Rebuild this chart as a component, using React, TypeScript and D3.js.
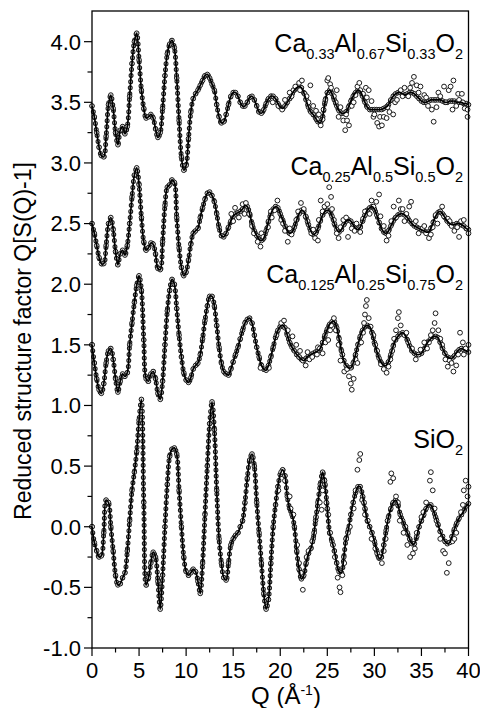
import React from 'react';
import * as d3 from 'd3';

// Q grid step of the fitted curves (Å^-1)
const Q_STEP = 0.25;

// Fitted curves, one value per Q_STEP from Q = 0 to 40
const SIO2 = [
  0.00, -0.13, -0.20, -0.25,
  -0.24, -0.05, 0.22, 0.20,
  0.00, -0.20, -0.40, -0.48,
  -0.47, -0.42, -0.38, -0.20,
  0.05, 0.30, 0.45, 0.62,
  0.88, 1.05, 0.20, -0.48,
  -0.42, -0.30, -0.21, -0.25,
  -0.45, -0.68, -0.40, 0.00,
  0.35, 0.58, 0.64, 0.65,
  0.60, 0.30, 0.00, -0.25,
  -0.37, -0.40, -0.38, -0.35,
  -0.37, -0.45, -0.55, -0.30,
  0.10, 0.50, 0.85, 1.03,
  0.80, 0.30, -0.10, -0.30,
  -0.42, -0.44, -0.30, -0.15,
  -0.10, -0.07, -0.05, 0.00,
  0.05, 0.20, 0.40, 0.55,
  0.60, 0.50, 0.20, -0.05,
  -0.30, -0.55, -0.68, -0.60,
  -0.30, 0.00, 0.18, 0.33,
  0.43, 0.47, 0.42, 0.25,
  0.15, 0.10, 0.00, -0.20,
  -0.35, -0.43, -0.40, -0.30,
  -0.22, -0.18, -0.10, 0.05,
  0.20, 0.35, 0.45, 0.35,
  0.15, -0.05, -0.12, -0.20,
  -0.30, -0.37, -0.38, -0.25,
  -0.10, -0.02, 0.10, 0.20,
  0.28, 0.33, 0.33, 0.25,
  0.15, 0.05, 0.00, -0.05,
  -0.12, -0.20, -0.26, -0.25,
  -0.15, -0.03, 0.08, 0.15,
  0.20, 0.22, 0.18, 0.10,
  0.05, 0.00, -0.05, -0.10,
  -0.14, -0.14, -0.08, 0.00,
  0.05, 0.10, 0.15, 0.18,
  0.18, 0.14, 0.08, 0.02,
  -0.04, -0.08, -0.12, -0.14,
  -0.13, -0.08, -0.02, 0.03,
  0.07, 0.10, 0.13, 0.17,
  0.19,
];

const CA125 = [
  1.50, 1.35, 1.22, 1.13,
  1.10, 1.18, 1.35, 1.45,
  1.47, 1.38, 1.22, 1.11,
  1.20, 1.26, 1.24, 1.27,
  1.50, 1.68, 1.85, 1.99,
  2.07, 1.95, 1.54, 1.22,
  1.20, 1.26, 1.28, 1.22,
  1.10, 1.05, 1.20, 1.50,
  1.78, 1.95, 2.04, 2.00,
  1.80, 1.58, 1.40, 1.27,
  1.21, 1.19, 1.23, 1.30,
  1.33, 1.35, 1.42, 1.55,
  1.70, 1.82, 1.90, 1.90,
  1.82, 1.66, 1.48, 1.35,
  1.28, 1.26, 1.25, 1.30,
  1.36, 1.42, 1.48, 1.55,
  1.62, 1.68, 1.71, 1.72,
  1.68, 1.58, 1.48, 1.40,
  1.33, 1.30, 1.29, 1.33,
  1.40, 1.48, 1.56, 1.62,
  1.65, 1.66, 1.64, 1.58,
  1.52, 1.48, 1.45, 1.42,
  1.40, 1.38, 1.37, 1.39,
  1.41, 1.42, 1.43, 1.44,
  1.45, 1.47, 1.52, 1.58,
  1.63, 1.67, 1.69, 1.69,
  1.64, 1.55, 1.45, 1.37,
  1.33, 1.31, 1.31, 1.35,
  1.42, 1.50, 1.57, 1.62,
  1.65, 1.66, 1.65, 1.60,
  1.52, 1.45, 1.39, 1.35,
  1.33, 1.33, 1.36, 1.42,
  1.49, 1.54, 1.57, 1.59,
  1.60, 1.58, 1.54, 1.49,
  1.45, 1.43, 1.42, 1.42,
  1.43, 1.46, 1.50, 1.53,
  1.55, 1.57, 1.57, 1.56,
  1.52, 1.47, 1.43, 1.40,
  1.39, 1.39, 1.41, 1.44,
  1.46, 1.47, 1.46, 1.45,
  1.44,
];

const CA25 = [
  2.50, 2.42, 2.32, 2.22,
  2.17, 2.17, 2.32, 2.50,
  2.55, 2.45, 2.27, 2.16,
  2.25, 2.28, 2.24, 2.32,
  2.50, 2.72, 2.90, 2.96,
  2.82, 2.55, 2.35, 2.28,
  2.30, 2.34, 2.33, 2.25,
  2.13, 2.12, 2.35, 2.65,
  2.80, 2.82, 2.86, 2.84,
  2.55, 2.30, 2.14, 2.07,
  2.10, 2.20, 2.33, 2.42,
  2.44, 2.46, 2.55, 2.63,
  2.70, 2.75, 2.76, 2.73,
  2.68, 2.58, 2.47, 2.40,
  2.39, 2.42, 2.47, 2.52,
  2.56, 2.58, 2.59, 2.60,
  2.62, 2.65, 2.64, 2.58,
  2.50, 2.44, 2.40, 2.37,
  2.36, 2.38, 2.44, 2.52,
  2.58, 2.62, 2.64, 2.63,
  2.58, 2.53, 2.48, 2.44,
  2.42, 2.43, 2.47, 2.53,
  2.58, 2.61, 2.60, 2.55,
  2.49, 2.44, 2.41, 2.42,
  2.46, 2.52, 2.57, 2.60,
  2.61, 2.60, 2.56, 2.50,
  2.45, 2.43, 2.45, 2.49,
  2.52, 2.53, 2.52, 2.49,
  2.46, 2.45, 2.47, 2.52,
  2.57, 2.61, 2.63, 2.64,
  2.62, 2.57, 2.51, 2.46,
  2.43, 2.42, 2.44, 2.48,
  2.52, 2.55, 2.57, 2.58,
  2.58, 2.57, 2.55, 2.52,
  2.50, 2.48, 2.47, 2.46,
  2.45, 2.44, 2.43, 2.43,
  2.46, 2.51, 2.56, 2.59,
  2.60, 2.58, 2.55, 2.52,
  2.50, 2.49, 2.49, 2.50,
  2.50, 2.49, 2.48, 2.46,
  2.45,
];

const CA33 = [
  3.47, 3.38, 3.25, 3.13,
  3.06, 3.05, 3.22, 3.48,
  3.56, 3.45, 3.25, 3.15,
  3.27, 3.30, 3.24, 3.30,
  3.55, 3.82, 4.00, 4.07,
  3.85, 3.60, 3.45, 3.37,
  3.38, 3.40, 3.37, 3.28,
  3.21, 3.25, 3.45, 3.72,
  3.90, 3.98, 4.01, 3.95,
  3.70, 3.35, 3.05, 2.94,
  2.98, 3.20, 3.42, 3.53,
  3.57, 3.60, 3.64, 3.68,
  3.72, 3.73, 3.70, 3.65,
  3.60, 3.48, 3.38, 3.33,
  3.34, 3.40, 3.48, 3.55,
  3.58, 3.58, 3.55, 3.50,
  3.47, 3.47, 3.50, 3.54,
  3.55, 3.52, 3.47, 3.42,
  3.41, 3.44, 3.49, 3.53,
  3.55, 3.55, 3.53, 3.49,
  3.46, 3.45, 3.47, 3.50,
  3.53, 3.57, 3.60, 3.62,
  3.63, 3.62, 3.58, 3.52,
  3.46, 3.42, 3.40, 3.37,
  3.34, 3.33, 3.38, 3.50,
  3.58, 3.60, 3.57, 3.52,
  3.47, 3.43, 3.41, 3.41,
  3.42, 3.46, 3.51, 3.55,
  3.58, 3.60, 3.59, 3.55,
  3.50, 3.46, 3.44, 3.44,
  3.44, 3.44, 3.44, 3.44,
  3.45, 3.46, 3.48, 3.52,
  3.55, 3.57, 3.58, 3.58,
  3.57, 3.56, 3.57, 3.58,
  3.58, 3.57, 3.55, 3.53,
  3.51, 3.50, 3.50, 3.51,
  3.52, 3.52, 3.52, 3.52,
  3.52, 3.51, 3.50, 3.50,
  3.51, 3.51, 3.51, 3.50,
  3.50, 3.50, 3.49, 3.49,
  3.48,
];

// Measured points that scatter away from the fits at high Q: [Q, value]
const SIO2_SCATTER = [
  [0, 0.0], [19.8, 0.3], [20.1, 0.45], [20.5, 0.38], [21.0, 0.25], [21.1, 0.15], [21.4, 0.1],
  [21.8, -0.15], [22.0, -0.3], [22.2, -0.38], [22.4, -0.52], [22.8, -0.25], [23.0, -0.2],
  [23.4, -0.12], [23.6, -0.05], [23.8, 0.08], [24.2, 0.2], [24.4, 0.14], [24.5, 0.3], [24.7, 0.38],
  [24.9, 0.2], [25.1, 0.1], [25.3, -0.05], [25.6, -0.15], [25.8, -0.25], [26.1, -0.42], [26.3, -0.5],
  [26.4, -0.54], [26.6, -0.4], [26.8, -0.3], [27.0, -0.1], [27.2, -0.05], [27.4, 0.0], [27.8, 0.15],
  [28.0, 0.3], [28.2, 0.47], [28.4, 0.55], [28.5, 0.6], [28.7, 0.22], [28.9, 0.2], [29.0, 0.1],
  [29.3, 0.05], [29.7, -0.1], [30.1, -0.18], [30.3, -0.22], [30.5, -0.25], [30.8, -0.3], [31.0, -0.2],
  [31.2, -0.1], [31.4, 0.05], [31.7, 0.37], [31.8, 0.44], [32.0, 0.4], [32.3, 0.25], [32.5, 0.2],
  [32.7, 0.05], [33.1, -0.05], [33.3, 0.0], [33.5, -0.15], [33.8, -0.25], [34.1, -0.22], [34.3, -0.18],
  [34.5, -0.05], [35.0, 0.08], [35.2, 0.12], [35.5, 0.2], [35.9, 0.38], [36.0, 0.45], [36.2, 0.3],
  [36.4, 0.15], [36.6, 0.05], [37.0, -0.1], [37.3, -0.2], [37.5, -0.22], [37.7, -0.38], [37.9, -0.3],
  [38.3, -0.12], [38.5, -0.1], [38.7, -0.05], [39.2, 0.12], [39.4, 0.18], [39.5, 0.3], [39.7, 0.38],
  [39.9, 0.25], [40.0, 0.33],
];

const CA125_SCATTER = [
  [0, 1.5], [17.9, 1.31], [18.8, 1.31], [19.6, 1.58], [20.1, 1.68], [20.4, 1.7], [20.8, 1.62],
  [21.3, 1.57], [21.7, 1.5], [22.0, 1.4], [22.1, 1.45], [22.4, 1.37], [22.7, 1.33], [22.9, 1.44],
  [23.1, 1.38], [23.4, 1.4], [23.9, 1.42], [24.0, 1.48], [24.2, 1.47], [24.5, 1.43], [24.8, 1.52],
  [25.1, 1.54], [25.3, 1.62], [25.4, 1.66], [25.7, 1.72], [25.9, 1.62], [26.2, 1.5], [26.4, 1.37],
  [26.6, 1.42], [26.8, 1.28], [27.1, 1.3], [27.3, 1.24], [27.5, 1.18], [27.6, 1.13], [27.8, 1.22],
  [28.0, 1.38], [28.2, 1.35], [28.6, 1.52], [28.8, 1.6], [28.9, 1.68], [29.0, 1.75], [29.1, 1.82],
  [29.2, 1.87], [29.4, 1.72], [29.6, 1.65], [29.9, 1.58], [30.1, 1.5], [30.3, 1.45], [30.7, 1.34],
  [31.0, 1.3], [31.3, 1.27], [31.5, 1.32], [31.7, 1.38], [31.9, 1.45], [32.1, 1.55], [32.3, 1.62],
  [32.5, 1.72], [32.6, 1.77], [32.8, 1.66], [33.2, 1.58], [33.4, 1.6], [33.6, 1.52], [34.0, 1.47],
  [34.4, 1.38], [34.7, 1.42], [34.9, 1.46], [35.3, 1.52], [35.6, 1.47], [35.8, 1.52], [36.0, 1.58],
  [36.2, 1.62], [36.4, 1.68], [36.5, 1.76], [36.8, 1.62], [37.0, 1.55], [37.2, 1.5], [37.55, 1.38],
  [37.8, 1.32], [38.0, 1.37], [38.2, 1.35], [38.4, 1.28], [38.7, 1.33], [38.9, 1.42], [39.1, 1.6],
  [39.4, 1.52], [39.5, 1.42], [39.7, 1.47], [40.0, 1.5],
];

const CA25_SCATTER = [
  [14.8, 2.58], [15.0, 2.52], [15.2, 2.63], [15.6, 2.55], [16.0, 2.66], [16.2, 2.58], [16.35, 2.67],
  [16.7, 2.58], [17.0, 2.48], [17.2, 2.42], [17.6, 2.35], [17.9, 2.31], [18.0, 2.42], [18.2, 2.39],
  [18.7, 2.47], [19.0, 2.6], [19.1, 2.55], [19.4, 2.61], [19.7, 2.69], [20.1, 2.53], [20.3, 2.5],
  [20.5, 2.44], [20.8, 2.35], [21.0, 2.46], [21.2, 2.41], [21.7, 2.53], [21.9, 2.6], [22.2, 2.67],
  [22.5, 2.62], [22.7, 2.56], [22.9, 2.52], [23.3, 2.42], [23.5, 2.45], [23.7, 2.38], [24.0, 2.36],
  [24.1, 2.53], [24.3, 2.69], [24.5, 2.6], [24.7, 2.64], [25.0, 2.66], [25.2, 2.8], [25.4, 2.72],
  [25.5, 2.62], [25.7, 2.53], [26.0, 2.42], [26.2, 2.38], [26.4, 2.47], [26.7, 2.53], [27.0, 2.55],
  [27.2, 2.39], [27.6, 2.46], [27.9, 2.44], [28.1, 2.5], [28.5, 2.43], [28.8, 2.54], [29.0, 2.6],
  [29.5, 2.58], [29.7, 2.69], [29.9, 2.64], [30.2, 2.68], [30.5, 2.74], [30.65, 2.56], [30.9, 2.45],
  [31.0, 2.48], [31.3, 2.36], [31.5, 2.4], [31.8, 2.52], [32.05, 2.64], [32.3, 2.55], [32.6, 2.69],
  [32.8, 2.62], [33.0, 2.62], [33.2, 2.52], [33.4, 2.58], [33.7, 2.64], [33.9, 2.68], [34.2, 2.5],
  [34.4, 2.52], [34.7, 2.42], [35.1, 2.46], [35.3, 2.48], [35.5, 2.42], [35.8, 2.38], [36.0, 2.41],
  [36.2, 2.47], [36.5, 2.57], [36.7, 2.5], [37.0, 2.6], [37.2, 2.64], [37.4, 2.56], [37.8, 2.54],
  [38.0, 2.52], [38.2, 2.48], [38.5, 2.44], [38.8, 2.47], [39.0, 2.39], [39.2, 2.52], [39.5, 2.53],
  [39.8, 2.46], [40.0, 2.42],
];

const CA33_SCATTER = [
  [19.2, 3.5], [19.8, 3.47], [20.2, 3.44], [20.5, 3.52], [21.0, 3.58], [21.2, 3.55], [21.4, 3.6],
  [21.6, 3.63], [22.0, 3.66], [22.1, 3.6], [22.3, 3.68], [22.6, 3.57], [22.8, 3.55], [23.0, 3.5],
  [23.2, 3.64], [23.5, 3.47], [23.8, 3.43], [23.9, 3.36], [24.1, 3.4], [24.3, 3.31], [24.5, 3.36],
  [24.6, 3.44], [24.8, 3.52], [25.0, 3.68], [25.1, 3.7], [25.3, 3.65], [25.4, 3.62], [25.7, 3.55],
  [25.9, 3.5], [26.0, 3.6], [26.2, 3.38], [26.4, 3.46], [26.7, 3.35], [26.9, 3.27], [27.0, 3.4],
  [27.1, 3.35], [27.3, 3.31], [27.6, 3.47], [27.8, 3.5], [28.0, 3.56], [28.2, 3.63], [28.4, 3.66],
  [28.5, 3.6], [28.8, 3.57], [29.1, 3.62], [29.2, 3.54], [29.4, 3.6], [29.7, 3.51], [29.9, 3.38],
  [30.0, 3.4], [30.3, 3.33], [30.5, 3.3], [30.6, 3.38], [30.8, 3.31], [31.0, 3.38], [31.3, 3.37],
  [31.4, 3.46], [31.6, 3.42], [32.0, 3.4], [32.2, 3.5], [32.4, 3.52], [32.8, 3.6], [33.0, 3.55],
  [33.2, 3.62], [33.6, 3.55], [33.8, 3.62], [34.0, 3.66], [34.2, 3.71], [34.5, 3.64], [34.7, 3.58],
  [34.9, 3.63], [35.3, 3.56], [35.5, 3.54], [35.7, 3.47], [36.1, 3.44], [36.3, 3.34], [36.6, 3.46],
  [36.8, 3.58], [37.0, 3.55], [37.4, 3.63], [37.6, 3.5], [37.9, 3.6], [38.1, 3.63], [38.3, 3.44],
  [38.4, 3.68], [38.7, 3.47], [38.9, 3.57], [39.0, 3.52], [39.3, 3.57], [39.4, 3.5], [39.6, 3.45],
  [39.9, 3.44], [39.9, 3.38],
];

// Labels: [text, isSubscript]
const LABEL_CA33 = [['Ca', 0], ['0.33', 1], ['Al', 0], ['0.67', 1], ['Si', 0], ['0.33', 1], ['O', 0], ['2', 1]];
const LABEL_CA25 = [['Ca', 0], ['0.25', 1], ['Al', 0], ['0.5', 1], ['Si', 0], ['0.5', 1], ['O', 0], ['2', 1]];
const LABEL_CA125 = [['Ca', 0], ['0.125', 1], ['Al', 0], ['0.25', 1], ['Si', 0], ['0.75', 1], ['O', 0], ['2', 1]];
const LABEL_SIO2 = [['Si', 0], ['O', 0], ['2', 1]];

const Y_TICKS = [-1.0, -0.5, 0.0, 0.5, 1.0, 1.5, 2.0, 2.5, 3.0, 3.5, 4.0];
const Y_MINOR = [-0.75, -0.25, 0.25, 0.75, 1.25, 1.75, 2.25, 2.75, 3.25, 3.75];
const X_TICKS = [0, 5, 10, 15, 20, 25, 30, 35, 40];
const X_MINOR = [2.5, 7.5, 12.5, 17.5, 22.5, 27.5, 32.5, 37.5];

const W = 480, H = 708;
const L = 92, R = 468.5, T = 11, B = 648;
const FONT = '"Liberation Sans", Arial, Helvetica, sans-serif';

const x = d3.scaleLinear().domain([0, 40]).range([L, R]);
const y = d3.scaleLinear().domain([-1, 4.253]).range([B, T]);

const SERIES = [
  { values: SIO2, scatter: SIO2_SCATTER, label: LABEL_SIO2, lx: 463, ly: 448 },
  { values: CA125, scatter: CA125_SCATTER, label: LABEL_CA125, lx: 463, ly: 283 },
  { values: CA25, scatter: CA25_SCATTER, label: LABEL_CA25, lx: 463, ly: 175 },
  { values: CA33, scatter: CA33_SCATTER, label: LABEL_CA33, lx: 463, ly: 52 },
];

const line = d3
  .line<number>()
  .x((_, i) => x(i * Q_STEP))
  .y((d) => y(d))
  .curve(d3.curveCatmullRom.alpha(0.5));

function Label({ parts, lx, ly }: { parts: any[]; lx: number; ly: number }) {
  let shift = 0;
  const spans = parts.map(([t, sub], i) => {
    const target = sub ? 7 : 0;
    const dy = target - shift;
    shift = target;
    return (
      <tspan key={i} dy={dy} fontSize={sub ? 14.5 : 25}>
        {t}
      </tspan>
    );
  });
  return (
    <text x={lx} y={ly} textAnchor="end" fontFamily={FONT} fill="#000">
      {spans}
    </text>
  );
}

export default function App() {
  return (
    <svg
      width={W}
      height={H}
      viewBox={`0 0 ${W} ${H}`}
      style={{ position: 'absolute', left: 0, top: 0, background: '#fff' }}
    >
      <rect x={0} y={0} width={W} height={H} fill="#fff" />
      <defs>
        <clipPath id="plot">
          <rect x={L - 4} y={T} width={R - L + 8} height={B - T} />
        </clipPath>
      </defs>

      <g clipPath="url(#plot)">
        {SERIES.map((s, si) => {
          const d = line(s.values) || '';
          return (
            <g key={si}>
              {/* ring-shaped measured points along the curve */}
              <path d={d} fill="none" stroke="#1a1a1a" strokeWidth={5} strokeLinecap="round" strokeDasharray="0 6" />
              <path d={d} fill="none" stroke="#f4f4f4" strokeWidth={2.8} strokeLinecap="round" strokeDasharray="0 6" />
              {s.values.map((v, i) => (
                <circle key={i} cx={x(i * Q_STEP)} cy={y(v)} r={2.3} fill="#e0e0e0" stroke="#111" strokeWidth={0.95} />
              ))}
              {s.scatter.map(([q, v], i) => (
                <circle key={'s' + i} cx={x(q)} cy={y(v)} r={2.4} fill="#fff" stroke="#111" strokeWidth={0.95} />
              ))}
              <path d={d} fill="none" stroke="#000" strokeWidth={1.7} />
            </g>
          );
        })}
      </g>

      {/* frame */}
      <rect x={L} y={T} width={R - L} height={B - T} fill="none" stroke="#000" strokeWidth={1.3} />

      {/* y axis ticks */}
      {Y_TICKS.map((t) => (
        <g key={'y' + t}>
          <line x1={L - 8} x2={L} y1={y(t)} y2={y(t)} stroke="#000" strokeWidth={1.2} />
          <text x={L - 11} y={y(t)} dy="0.36em" textAnchor="end" fontFamily={FONT} fontSize={22}>
            {t.toFixed(1)}
          </text>
        </g>
      ))}
      {Y_MINOR.map((t) => (
        <line key={'ym' + t} x1={L - 4.5} x2={L} y1={y(t)} y2={y(t)} stroke="#000" strokeWidth={1.2} />
      ))}

      {/* x axis ticks */}
      {X_TICKS.map((t) => (
        <g key={'x' + t}>
          <line x1={x(t)} x2={x(t)} y1={B} y2={B + 8} stroke="#000" strokeWidth={1.2} />
          <text x={x(t)} y={B + 30} textAnchor="middle" fontFamily={FONT} fontSize={22}>
            {t}
          </text>
        </g>
      ))}
      {X_MINOR.map((t) => (
        <line key={'xm' + t} x1={x(t)} x2={x(t)} y1={B} y2={B + 4.5} stroke="#000" strokeWidth={1.2} />
      ))}

      {/* axis titles */}
      <text x={286} y={704} textAnchor="middle" fontFamily={FONT} fontSize={24}>
        Q (Å
        <tspan fontSize={14} dy={-9}>-1</tspan>
        <tspan dy={9}>)</tspan>
      </text>
      <text
        transform={`translate(31, 341) rotate(-90)`}
        textAnchor="middle"
        fontFamily={FONT}
        fontSize={23}
      >
        Reduced structure factor Q[S(Q)-1]
      </text>

      {SERIES.map((s, si) => (
        <Label key={'l' + si} parts={s.label} lx={s.lx} ly={s.ly} />
      ))}
    </svg>
  );
}
